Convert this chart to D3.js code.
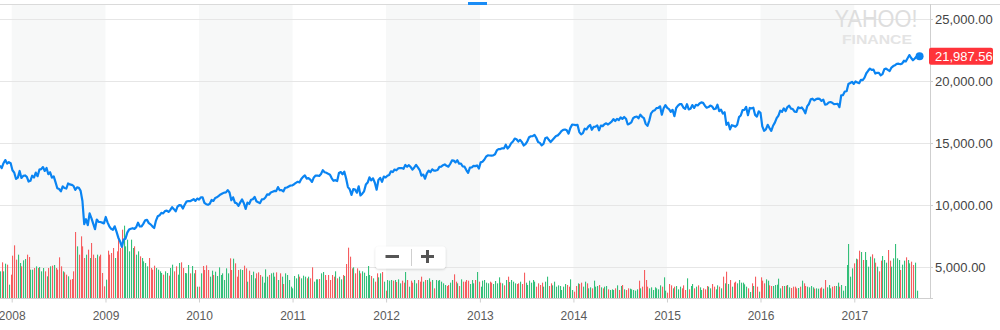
<!DOCTYPE html>
<html><head><meta charset="utf-8">
<script src="https://cdn.jsdelivr.net/npm/d3@7/dist/d3.min.js"></script>
<style>
html,body{margin:0;padding:0;background:#fff;}
svg{display:block;font-family:"Liberation Sans",Arial,Helvetica,sans-serif;}
</style>
</head><body>
<svg id="chart" width="1000" height="330"></svg>
<script>
// ---------- DATA (weekly closes, Dow Jones Industrial Average) ----------
const firstWeek = "2007-11-16";
const close2007 = [13176,12980,13372,13625,13339,13451,13366];
const close2008 = [12800,12606,12099,12207,12743,12183,12348,12381,12266,11894,
  11951,12361,12216,12609,12325,12849,12892,13058,12745,12986,
  12480,12638,12209,12308,11843,11347,11288,11100,11496,11370,
  11326,11734,11659,11628,11543,11220,11421,11388,11143,10325,
  8451,8852,8378,9325,8943,8497,8046,8829,8635,8629,
  8579,8515];
const close2009 = [9034,8599,8281,8077,8001,8280,7850,7366,7063,6627,
  7224,7279,7776,8018,8083,8131,8076,8212,8575,8268,
  8277,8500,8764,8799,8539,8438,8280,8146,8743,9093,
  9171,9370,9321,9505,9544,9441,9605,9820,9665,9487,
  9865,9995,9972,9712,10023,10270,10318,10309,10388,10471,
  10329,10520,10428];
const close2010 = [10618,10610,10173,10067,10013,10099,10402,10325,10567,10625,
  10742,10851,10927,10998,11019,11205,11009,10380,10620,10193,
  10137,9932,10212,10451,10144,9686,10198,10098,10425,10466,
  10654,10303,10214,10150,10448,10462,10608,10860,10829,11006,
  11063,11133,11118,11444,11192,11204,11092,11382,11410,11491,
  11573,11578];
const close2011 = [11675,11787,11871,11824,12092,12273,12391,12130,12169,12044,
  11859,12221,12376,12380,12342,12505,12811,12638,12596,12512,
  12441,12151,11952,12004,11934,12582,12657,12480,12681,12143,
  11445,11270,10818,11285,11240,10992,11510,10771,10913,11103,
  11645,11809,12231,11983,12153,11796,11231,12019,12184,11867,
  12294,12218];
const close2012 = [12360,12422,12720,12660,12862,12801,12950,12983,12978,12922,
  13233,13081,13212,13060,12850,13029,13228,13038,12821,12369,
  12455,12119,12554,12767,12640,12880,12772,12777,12822,13075,
  13096,13207,13275,13157,13090,13306,13593,13579,13437,13610,
  13328,13343,13107,13093,12815,12588,13010,13026,13155,13135,
  13190,12938];
const close2013 = [13435,13488,13650,13896,14010,13993,13982,14001,14090,14397,
  14515,14512,14579,14565,14865,14548,14712,14974,15118,15354,
  15303,15116,15248,15070,14799,14910,15136,15464,15543,15559,
  15658,15425,15081,15010,14810,14922,15376,15452,15258,15073,
  15237,15400,15570,15615,15762,15962,16065,16086,16020,15755,
  16221,16479];
const close2014 = [16470,16437,16459,15880,15699,15794,16154,16104,16322,16453,
  16066,16303,16323,16413,16027,16409,16361,16513,16584,16491,
  16607,16717,16924,16776,16948,16852,17068,16944,17101,16961,
  16493,16554,16663,17001,17098,17138,16988,17280,17114,17010,
  16544,16380,16805,17391,17573,17635,17810,17828,17958,17281,
  17805,18054];
const close2015 = [17833,17737,17512,17673,17165,17825,18019,18140,18133,17857,
  17749,18128,17713,17763,18058,17827,18080,18024,18191,18272,
  18232,18011,17849,17899,18015,17947,17730,17760,18086,17568,
  17690,17373,17477,16460,16643,16102,16433,16385,16315,16472,
  17084,17216,17647,17664,17910,17245,17824,17798,17848,17265,
  17128,17553,17425];
const close2016 = [16347,15988,16094,16466,16205,15974,16392,16640,17007,17213,
  17602,17515,17793,17577,17897,18004,17774,17740,17535,17501,
  17873,17807,17865,17675,17401,17949,18147,18517,18571,18432,
  18544,18577,18553,18395,18492,18085,18124,18262,18308,18240,
  18138,18146,18161,17888,18848,18868,19152,19171,19757,19843,
  19934,19763];
const close2017 = [19964,19886,19827,20094,20071,20269,20624,20822,21005,20903,
  20914,20597,20663,20656,20453,20548,20941,21007,20897,20805,
  21080,21206,21272,21384,21395,21350,21414,21638,21580,21830,
  22092,21858,21675,21814,21987.56];

// weekly volume (millions of shares)
const volumeA = [1120,1498,1120,1442,1400,560,980,1778,2212,1610,
  1820,1470,1330,1582,1638,1820,1722,1190,1190,
  1260,1330,1260,1302,1120,1260,1120,910,1260,1330,
  1358,1386,1260,1190,1708,1330,1120,1078,980,
  910,770,798,1120,2772,2170,1820,2590,2170,
  1680,1820,2030,1680,2310,1820,1680,1820,1750,1820,
  1050,490,770,1988,1820,1890,2100,1680,1960,
  2590,2100,2870,3038,2170,2450,1960,2450,2100,2170,
  1820,1960,1750,1680,1540,1470,1330,1680,1260,
  1190,1358,1260,1190,1120,1050,980,1120,1050,938,
  1260,1400,1120,1330,980,1470,1498,1260,1050];
const volumeB = [1036,1386,1036,1344,1036,1176,476,476,1036,1344,
  1176,1372,1176,896,1148,966,1106,924,1288,
  966,1036,756,1246,1036,1666,1176,1652,1456,
  896,1176,1204,1176,1358,1246,686,1148,966,
  1106,826,1036,1078,966,896,644,1204,896,966,
  1036,1064,896,1078,756,1036,896,588,1036,
  966,756,476,406,924,826,994,896,826,
  938,896,826,896,826,1288,686,784,784,
  798,1036,1092,966,756,966,756,966,896,1120,
  826,896,784,966,924,1428,2114,1736,1246,
  1288,1036,1246,1148,1036,1120,1064,924,1344,
  966,924];
const volumeC = [826,686,1036,868,1036,1092,686,308,756,728,
  756,728,756,672,784,616,728,644,1092,756,
  476,728,644,756,616,756,686,896,686,756,
  756,826,686,756,406,756,728,756,686,616,
  546,504,546,644,756,994,686,616,504,784,
  686,686,756,728,588,756,616,756,1092,686,
  476,728,756,644,616,686,644,588,714,616,
  868,644,616,532,756,896,672,756,686,616,
  588,616,686,588,1064,644,546,728,644,756,
  686,476,616,546,644,476,686,896,504,616,
  532,686,476];
const volumeD = [532,504,336,476,588,546,476,784,336,266,
  504,616,588,644,476,686,616,406,448,406,
  728,476,504,546,448,406,476,504,364,336,
  364,336,406,532,336,504,546,364,336,406,
  392,364,336,308,364,728,406,476,1176,
  756,476,406,448,336,448,406,364,532,476,
  868,308,224,588,532,406,476,504,364,476,
  406,532,336,826,364,504,588,406,476,
  532,448,336,406,364,504,476,406,588,476,
  364,532,476,406,896,616,1106,588,756,476,
  644,686,616,756,644,644];
const volumeE = [574,476,406,252,616,504,896,476,266,
  868,728,616,784,728,532,504,504,546,560,
  812,406,504,504,518,546,448,420,476,476,
  406,420,476,728,616,504,476,448,504,448,
  392,406,392,406,448,392,756,448,546,406,
  476,504,504,644,476,546,308,504,1386,2268,
  896,1246,1456,1652,1624,1988,1932,1596,1932,1596,
  1316,1736,1834,1666,1484,1316,1120,1568,1764,1596,
  1484,2016,1568,1316,1666,2268,1666,1596,1176,1400,
  1568,1708,1596,1456,1526,1386,1484,308];

const yTicks = [5000,10000,15000,20000,25000];
const yTickLabels = ["5,000.00","10,000.00","15,000.00","20,000.00","25,000.00"];
const years = [2008,2009,2010,2011,2012,2013,2014,2015,2016,2017];
const yearLabels = ["2008","2009","2010","2011","2012","2013","2014","2015","2016","2017"];
const lastPriceLabel = "21,987.56";

// ---------- BUILD ----------
const closes = [].concat(close2007,close2008,close2009,close2010,close2011,close2012,close2013,close2014,close2015,close2016,close2017);
const volumes = [].concat(volumeA,volumeB,volumeC,volumeD,volumeE);
const start = d3.timeParse("%Y-%m-%d")(firstWeek);
const data = closes.map((c,i)=>({
  date: d3.timeDay.offset(start, 7*i),
  close: c,
  volume: volumes[i] || 0,
  up: i===0 ? true : c >= closes[i-1]
}));

const svg = d3.select("#chart");
const plotR = 930, plotT = 4, plotB = 298;

// x scale anchored on the year ticks
const xa = d3.scaleTime().domain([new Date(2008,0,1), new Date(2017,0,1)]).range([11.7, 854.3]);
const x = d3.scaleTime().domain([xa.invert(0), xa.invert(plotR)]).range([0, plotR]);
const y = d3.scaleLinear().domain([5000,25000]).range([267,19]);
const yv = d3.scaleLinear().domain([0,3024]).range([plotB, 226]);

// alternating year bands
svg.append("g").selectAll("rect").data(years.filter((d,i)=>i%2===0)).join("rect")
  .attr("x", d=>x(new Date(d,0,1)))
  .attr("width", d=>x(new Date(d+1,0,1))-x(new Date(d,0,1)))
  .attr("y", plotT+0.5).attr("height", plotB-plotT-0.5)
  .attr("fill","#f7f8f8");

// gridlines
svg.append("g").selectAll("line").data(yTicks).join("line")
  .attr("x1",0).attr("x2",plotR+3)
  .attr("y1",d=>Math.round(y(d))+0.5).attr("y2",d=>Math.round(y(d))+0.5)
  .attr("stroke","#e6e6e6").attr("stroke-width",1);

// volume bars
svg.append("g").selectAll("rect").data(data).join("rect")
  .attr("x", d=>Math.round(x(d.date)))
  .attr("width", 1.1)
  .attr("y", d=>yv(d.volume))
  .attr("height", d=>plotB-yv(d.volume))
  .attr("fill", d=>d.up ? "#33bf79" : "#f65d5f");

// price line
svg.append("defs").append("clipPath").attr("id","clip")
  .append("rect").attr("x",0).attr("y",plotT).attr("width",plotR).attr("height",plotB-plotT);
const line = d3.line().x(d=>x(d.date)).y(d=>y(d.close));
svg.append("path").datum(data)
  .attr("clip-path","url(#clip)")
  .attr("d", line).attr("fill","none")
  .attr("stroke","#0a84f2").attr("stroke-width",2.2).attr("stroke-linejoin","round");

// frame lines
svg.append("line").attr("x1",0).attr("x2",1000).attr("y1",plotT+0.5).attr("y2",plotT+0.5)
  .attr("stroke","#dadada");
svg.append("rect").attr("x",468).attr("y",2).attr("width",19).attr("height",3).attr("fill","#1a8cf5");
svg.append("line").attr("x1",plotR+0.5).attr("x2",plotR+0.5).attr("y1",plotT).attr("y2",plotB)
  .attr("stroke","#cfcfcf");

// x axis
const xAxis = d3.axisBottom(x)
  .tickValues(years.map(yr=>new Date(yr,0,1)))
  .tickFormat((d,i)=>yearLabels[i])
  .tickSizeInner(4).tickSizeOuter(0).tickPadding(9);
const gx = svg.append("g").attr("transform",`translate(0,${plotB+0.5})`).call(xAxis);
gx.select(".domain").attr("stroke","#cfcfcf").attr("d",`M0,0H${plotR+3}`);
gx.selectAll(".tick line").attr("stroke","#cfcfcf");
gx.selectAll(".tick text").attr("fill","#5a5a5a").style("font-size","12px")
  .style("font-family",'"Liberation Sans",Arial,sans-serif');

// y axis
const yAxis = d3.axisRight(y).tickValues(yTicks).tickFormat((d,i)=>yTickLabels[i])
  .tickSizeInner(3).tickSizeOuter(0).tickPadding(2);
const gy = svg.append("g").attr("transform",`translate(${plotR},0)`).call(yAxis);
gy.select(".domain").remove();
gy.selectAll(".tick line").attr("stroke","#cfcfcf");
gy.selectAll(".tick text").attr("fill","#444").style("font-size","13px")
  .style("font-family",'"Liberation Sans",Arial,sans-serif');

// watermark
svg.append("text").attr("x",876).attr("y",27).attr("text-anchor","middle")
  .attr("textLength",83).attr("lengthAdjust","spacingAndGlyphs")
  .style("font-size","23px").attr("fill","#dedede").text("YAHOO!");
svg.append("text").attr("x",877).attr("y",44).attr("text-anchor","middle")
  .attr("textLength",70).attr("lengthAdjust","spacingAndGlyphs")
  .style("font-size","12.5px").style("font-weight","bold").attr("fill","#e4e4e4").text("FINANCE");

// last point marker and label
const last = data[data.length-1];
const ly = y(last.close);
svg.append("circle").attr("cx",x(last.date)+3).attr("cy",ly).attr("r",4).attr("fill","#0a84f2");
svg.append("rect").attr("x",929).attr("y",ly-8.5).attr("width",64).attr("height",17).attr("rx",2)
  .attr("fill","#ff333a");
svg.append("text").attr("x",935).attr("y",ly+4.5).attr("fill","#fff")
  .style("font-size","13px").text(lastPriceLabel);

// zoom control
const defs = svg.select("defs");
const f = defs.append("filter").attr("id","sh").attr("x","-20%").attr("y","-30%").attr("width","140%").attr("height","170%");
f.append("feDropShadow").attr("dx",0).attr("dy",1).attr("stdDeviation",1.2).attr("flood-color","#000").attr("flood-opacity",0.18);
const zc = svg.append("g");
zc.append("rect").attr("x",375.5).attr("y",246.5).attr("width",70).attr("height",22).attr("rx",3)
  .attr("fill","#fff").attr("filter","url(#sh)");
zc.append("line").attr("x1",385.5).attr("x2",399).attr("y1",256.5).attr("y2",256.5).attr("stroke","#555").attr("stroke-width",3);
zc.append("line").attr("x1",411.5).attr("x2",411.5).attr("y1",249).attr("y2",266).attr("stroke","#cfcfcf");
zc.append("line").attr("x1",421).attr("x2",434).attr("y1",256.5).attr("y2",256.5).attr("stroke","#555").attr("stroke-width",3);
zc.append("line").attr("x1",427.5).attr("x2",427.5).attr("y1",250).attr("y2",263).attr("stroke","#555").attr("stroke-width",3);
</script>
</body></html>
